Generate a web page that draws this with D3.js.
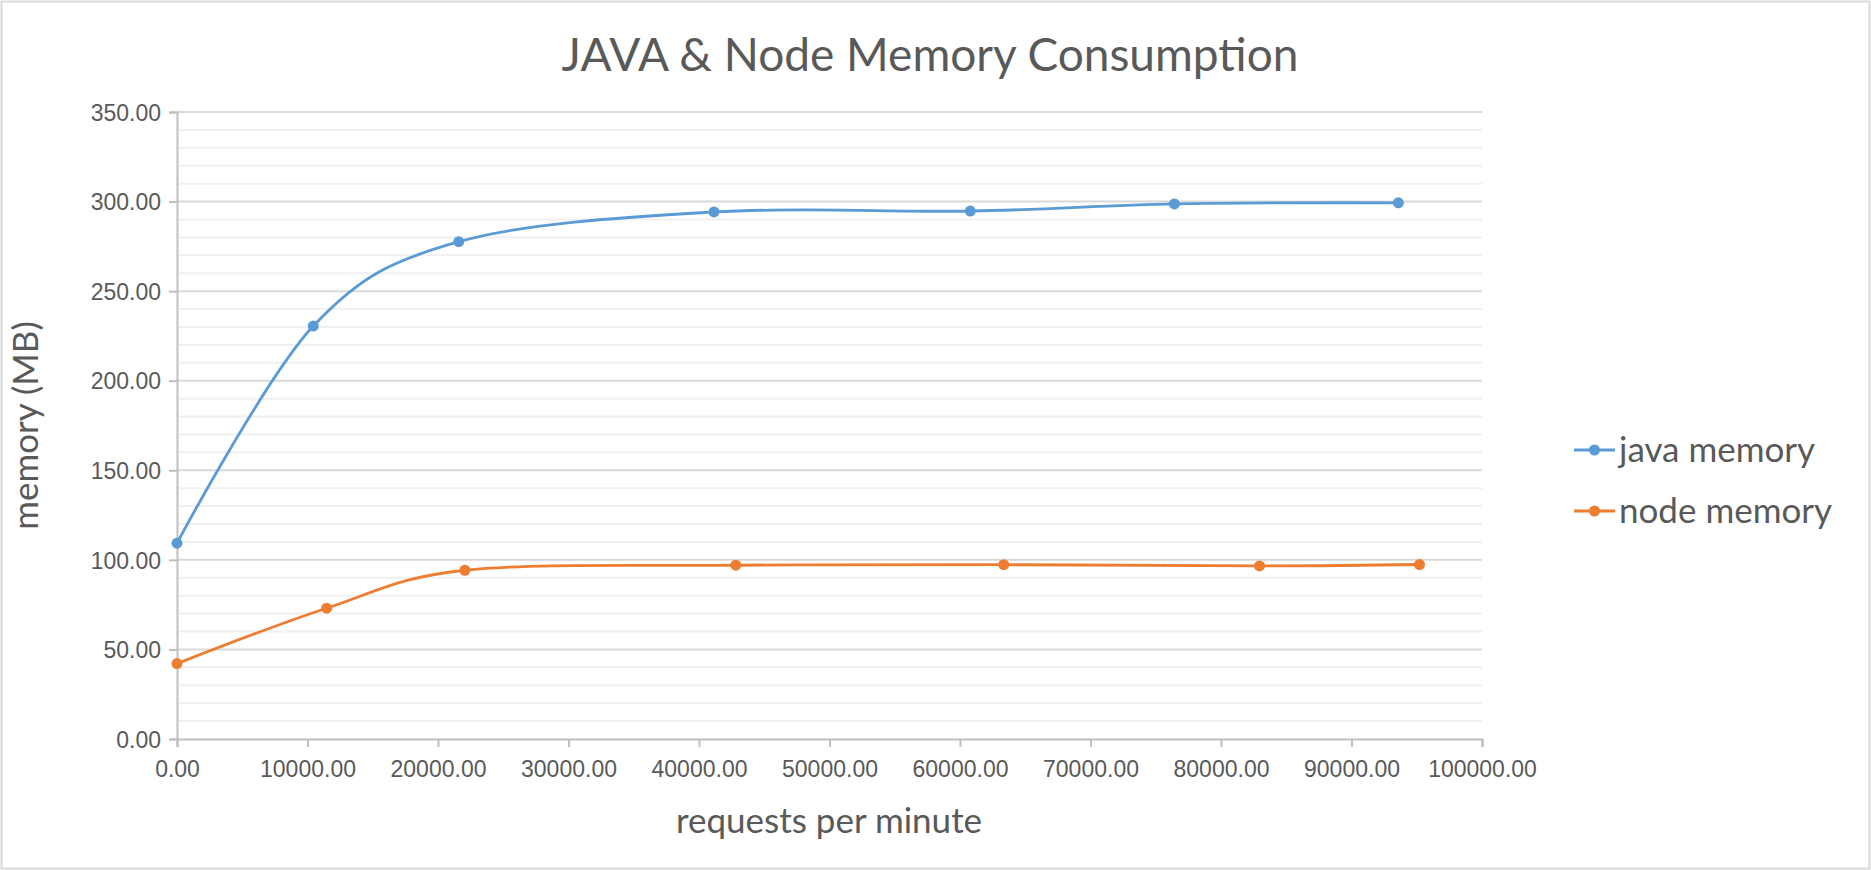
<!DOCTYPE html>
<html>
<head>
<meta charset="utf-8">
<script src="https://cdn.jsdelivr.net/npm/d3@7"></script>
<style>
  html, body { margin: 0; padding: 0; background: #fff; }
  svg { display: block; font-family: Lato, "Open Sans", sans-serif; }
</style>
</head>
<body>
<svg id="chart" width="1871" height="870"></svg>
<script>
// Values.
const javaX = [0, 10440, 21590, 41150, 60790, 76430, 93590];
const javaY = [109.3, 230.5, 277.6, 294.2, 294.7, 298.7, 299.3];
const nodeX = [0, 11470, 22060, 42820, 63350, 82950, 95210];
const nodeY = [42.1, 73.0, 94.2, 97.0, 97.3, 96.6, 97.4];
const seriesNames = ['java memory', 'node memory'];
const seriesColors = ['#5b9bd5', '#ed7d31'];
const xTicks = d3.range(0, 100001, 10000);
const yMajor = d3.range(0, 351, 50);
const yMinor = d3.range(0, 351, 10).filter((v) => v % 50 !== 0);

const series = [
  { name: seriesNames[0], color: seriesColors[0], pts: javaX.map((x, i) => [x, javaY[i]]) },
  { name: seriesNames[1], color: seriesColors[1], pts: nodeX.map((x, i) => [x, nodeY[i]]) }
];

const svg = d3.select('#chart');
const W = 1871, H = 870;
const plot = { left: 177, right: 1482, top: 112, bottom: 739 };
const textColor = '#595959';

// chart border
svg.append('rect').attr('x', 1.5).attr('y', 1.5).attr('width', W - 3).attr('height', H - 3)
  .attr('fill', '#fff').attr('stroke', '#d9d9d9').attr('stroke-width', 2);

const x = d3.scaleLinear().domain([0, 100000]).range([plot.left, plot.right]);
const y = d3.scaleLinear().domain([0, 350]).range([plot.bottom, plot.top]);

// gridlines: light minor every 10, darker major every 50
const grid = svg.append('g');
grid.selectAll('line.minor').data(yMinor).join('line')
  .attr('x1', plot.left).attr('x2', plot.right)
  .attr('y1', (d) => y(d)).attr('y2', (d) => y(d))
  .attr('stroke', '#f0f0f0').attr('stroke-width', 2);
grid.selectAll('line.major').data(yMajor.filter((d) => d > 0)).join('line')
  .attr('x1', plot.left).attr('x2', plot.right)
  .attr('y1', (d) => y(d)).attr('y2', (d) => y(d))
  .attr('stroke', '#d9d9d9').attr('stroke-width', 2);

const yAxis = svg.append('g').attr('transform', `translate(${plot.left},0)`)
  .call(d3.axisLeft(y).tickValues(yMajor).tickFormat(d3.format('.2f')).tickSizeOuter(0).tickSize(8).tickPadding(8));
const xAxis = svg.append('g').attr('transform', `translate(0,${plot.bottom})`)
  .call(d3.axisBottom(x).tickValues(xTicks).tickFormat(d3.format('.2f')).tickSizeOuter(0).tickSize(8).tickPadding(14));

[yAxis, xAxis].forEach((a) => {
  a.select('.domain').attr('stroke', '#bfbfbf').attr('stroke-width', 2);
  a.selectAll('.tick line').attr('stroke', '#bfbfbf').attr('stroke-width', 2);
  a.selectAll('.tick text').attr('fill', textColor).style('font-size', '23px');
});
yAxis.selectAll('.tick text').attr('dy', '0.36em');

// smoothed lines (Excel-style) + markers
const line = d3.line().x((d) => x(d[0])).y((d) => y(d[1])).curve(d3.curveCatmullRom.alpha(0));
const sg = svg.append('g').selectAll('g').data(series).join('g');
sg.append('path').attr('d', (d) => line(d.pts))
  .attr('fill', 'none').attr('stroke', (d) => d.color).attr('stroke-width', 2.8).attr('stroke-linecap', 'round');
sg.selectAll('circle').data((d) => d.pts.map((p) => ({ p, c: d.color }))).join('circle')
  .attr('cx', (d) => x(d.p[0])).attr('cy', (d) => y(d.p[1])).attr('r', 5.5)
  .attr('fill', (d) => d.c);

// title
svg.append('text').attr('x', 930).attr('y', 71).attr('text-anchor', 'middle')
  .attr('fill', textColor).style('font-size', '46px').text('JAVA & Node Memory Consumption');

// axis titles
svg.append('text').attr('transform', `translate(38,${(plot.top + plot.bottom) / 2}) rotate(-90)`)
  .attr('text-anchor', 'middle').attr('fill', textColor).style('font-size', '35px').text('memory (MB)');
svg.append('text').attr('x', 829).attr('y', 833).attr('text-anchor', 'middle')
  .attr('fill', textColor).style('font-size', '35px').text('requests per minute');

// legend
const leg = svg.append('g').selectAll('g').data(series).join('g')
  .attr('transform', (d, i) => `translate(1574,${450 + i * 61})`);
leg.append('line').attr('x1', 0).attr('x2', 41).attr('stroke', (d) => d.color).attr('stroke-width', 2.8);
leg.append('circle').attr('cx', 20.5).attr('r', 5.5).attr('fill', (d) => d.color);
leg.append('text').attr('x', 45).attr('dy', '0.35em').attr('fill', textColor)
  .style('font-size', '35px').text((d) => d.name);
</script>
</body>
</html>
